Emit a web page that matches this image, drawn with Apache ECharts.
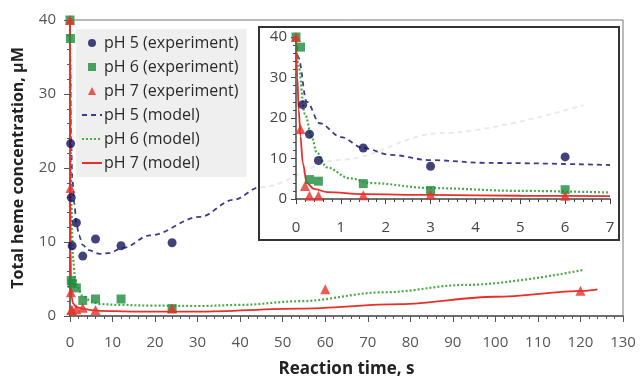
<!DOCTYPE html>
<html>
<head>
<meta charset="utf-8">
<script src="https://cdn.jsdelivr.net/npm/echarts@6/dist/echarts.min.js"></script>
<style>
  html, body { margin: 0; padding: 0; background: #fff; }
  #chart { width: 640px; height: 380px; }
</style>
</head>
<body>
<div id="chart"></div>
<script>
// experiment points (time in s, concentration in uM)
const t5 = [0.15, 0.3, 0.5, 1.5, 3, 6, 12, 24];
const v5 = [23.3, 16, 9.5, 12.6, 8.1, 10.4, 9.5, 9.9];
const t6 = [0, 0.1, 0.3, 0.5, 1.5, 3, 6, 12, 24];
const v6 = [40, 37.5, 4.8, 4.4, 3.8, 2.1, 2.3, 2.3, 1.0];
const t7 = [0, 0.1, 0.2, 0.3, 0.5, 1.5, 3, 6, 24, 60, 120];
const v7 = [40, 17.3, 3.2, 0.8, 0.8, 0.9, 1.1, 0.8, 1.0, 3.6, 3.4];

// model curves
const m5t = [0, 0.05, 0.24, 0.53, 1, 1.5, 2.1, 3, 4.3, 7, 9, 12.5, 18.8, 30.6, 38.4, 44.7, 63.5, 87, 120.7];
const m5v = [40, 35, 24, 18.7, 15.3, 12.6, 10.9, 9.6, 8.9, 8.4, 8.5, 9.2, 10.9, 13.4, 15.7, 17.4, 21.1, 24.7, 28.5];
const m6t = [0, 0.05, 0.2, 0.36, 0.46, 0.69, 1.2, 1.7, 3, 5, 7, 12, 18.8, 30.6, 40, 54, 73.6, 93, 120.5];
const m6v = [40, 33, 21, 15, 11.5, 7.8, 5.1, 3.9, 2.7, 2.0, 1.6, 1.5, 1.4, 1.35, 1.5, 2.0, 3.2, 4.2, 6.2];
const m7t = [0, 0.03, 0.06, 0.1, 0.15, 0.24, 0.4, 0.7, 1.5, 3, 5, 7, 15, 30, 54, 77.6, 100, 120.7, 124];
const m7v = [40, 30, 22, 15.5, 9, 4, 2.5, 1.7, 1.2, 1.0, 0.8, 0.7, 0.6, 0.6, 1.0, 1.6, 2.6, 3.4, 3.6];

const names = ["pH 5 (experiment)", "pH 6 (experiment)", "pH 7 (experiment)", "pH 5 (model)", "pH 6 (model)", "pH 7 (model)"];

const zip = (a, b) => a.map((x, i) => [x, b[i]]);
const upTo = (pts, max) => pts.filter(p => p[0] <= max);

const font = "Open Sans";
const navy = "#14145a";
const green = "#1e8c3c";
const red = "#e8302a";

function expSeries(name, pts, color, symbol, grid, z) {
  return {
    name: name, type: "scatter", xAxisIndex: grid, yAxisIndex: grid,
    data: pts, symbol: symbol, symbolSize: symbol === "triangle" ? 10 : 9,
    itemStyle: {color: color}, z: z
  };
}
function modelSeries(name, pts, color, type, width, grid, z) {
  return {
    name: name, type: "line", xAxisIndex: grid, yAxisIndex: grid,
    data: pts, showSymbol: false, symbol: "none", smooth: 0.35, smoothMonotone: "x",
    lineStyle: {color: color, type: type, width: width},
    itemStyle: {color: "rgba(0,0,0,0)"},
    z: z, silent: true
  };
}

const chart = echarts.init(document.getElementById("chart"));

const axisLabel = {color: "#555", fontSize: 15, fontFamily: font};

const option = {
  animation: false,
  textStyle: {fontFamily: font},
  legend: {
    data: [
      {name: names[0], icon: "circle"},
      {name: names[1], icon: "path://M0,0H1V1H0Z"},
      {name: names[2], icon: "path://M0.5,0L1,1H0Z"},
      {name: names[3]},
      {name: names[4]},
      {name: names[5]}
    ],
    orient: "vertical",
    left: 76, top: 29,
    itemWidth: 20, itemHeight: 8, itemGap: 8,
    backgroundColor: "#efefef",
    padding: [6, 8, 6, 5],
    textStyle: {color: "#2a2a2a", fontSize: 16, fontFamily: font, padding: [0, 0, 0, -3]}
  },
  grid: [
    {left: 70, right: 17, top: 20, bottom: 64, outerBoundsMode: "none", show: true, borderColor: "#777", borderWidth: 1, backgroundColor: "#fff"},
    {left: 296, right: 30, top: 37, bottom: 181, outerBoundsMode: "none", show: false}
  ],
  xAxis: [
    {
      type: "value", gridIndex: 0, min: 0, max: 130, interval: 10,
      name: "Reaction time, s", nameLocation: "middle", nameGap: 45,
      nameTextStyle: {color: "#222", fontSize: 17, fontWeight: "bold", fontFamily: font},
      axisLine: {lineStyle: {color: "#555", width: 1.5}},
      axisTick: {length: 6, lineStyle: {color: "#555"}},
      minorTick: {show: true, splitNumber: 5, length: 3, lineStyle: {color: "#555"}},
      splitLine: {show: false},
      axisLabel: Object.assign({margin: 19}, axisLabel)
    },
    {
      type: "value", gridIndex: 1, min: 0, max: 7, interval: 1, z: 20,
      axisLine: {lineStyle: {color: "#444", width: 1.5}},
      axisTick: {length: 5, lineStyle: {color: "#444"}},
      minorTick: {show: true, splitNumber: 5, length: 3, lineStyle: {color: "#444"}},
      splitLine: {show: false},
      axisLabel: Object.assign({margin: 21}, axisLabel, {color: "#444"})
    }
  ],
  yAxis: [
    {
      type: "value", gridIndex: 0, min: 0, max: 40, interval: 10,
      name: "Total heme concentration, μM", nameLocation: "middle", nameGap: 44,
      nameTextStyle: {color: "#222", fontSize: 16, fontWeight: "bold", fontFamily: font},
      axisLine: {show: true, lineStyle: {color: "#555", width: 1.5}},
      axisTick: {show: true, length: 6, lineStyle: {color: "#555"}},
      minorTick: {show: true, splitNumber: 5, length: 3, lineStyle: {color: "#555"}},
      splitLine: {show: false},
      axisLabel: Object.assign({margin: 14}, axisLabel)
    },
    {
      type: "value", gridIndex: 1, min: 0, max: 40, interval: 10, z: 20,
      axisLine: {show: true, lineStyle: {color: "#444", width: 1.5}},
      axisTick: {show: true, length: 5, lineStyle: {color: "#444"}},
      minorTick: {show: true, splitNumber: 5, length: 3, lineStyle: {color: "#444"}},
      splitLine: {show: false},
      axisLabel: Object.assign({margin: 9}, axisLabel, {color: "#444"})
    }
  ],
  graphic: [
    {
      type: "rect", z: 10, silent: true,
      shape: {x: 259, y: 27, width: 360, height: 213},
      style: {fill: "rgba(255,255,255,0.88)", stroke: "#333", lineWidth: 2}
    }
  ],
  series: [
    modelSeries(names[3], zip(m5t, m5v), "#3c3c8c", [5, 4], 1.8, 0, 2),
    modelSeries(names[4], zip(m6t, m6v), "#4aaa4a", [2, 2], 2.2, 0, 2),
    modelSeries(names[5], zip(m7t, m7v), red, "solid", 1.8, 0, 2),
    expSeries(names[0], zip(t5, v5), navy, "circle", 0, 3),
    expSeries(names[1], zip(t6, v6), green, "rect", 0, 3),
    expSeries(names[2], zip(t7, v7), red, "triangle", 0, 3),

    modelSeries(names[3], upTo(zip(m5t, m5v), 7.01), "#3c3c8c", [5, 4], 1.8, 1, 21),
    modelSeries(names[4], upTo(zip(m6t, m6v), 7.01), "#4aaa4a", [2, 2], 2.2, 1, 21),
    modelSeries(names[5], upTo(zip(m7t, m7v), 7.01), red, "solid", 1.8, 1, 21),
    expSeries(names[0], upTo(zip(t5, v5), 7), navy, "circle", 1, 22),
    expSeries(names[1], upTo(zip(t6, v6), 7), green, "rect", 1, 22),
    expSeries(names[2], upTo(zip(t7, v7), 7), red, "triangle", 1, 22)
  ]
};

chart.setOption(option);
</script>
</body>
</html>
